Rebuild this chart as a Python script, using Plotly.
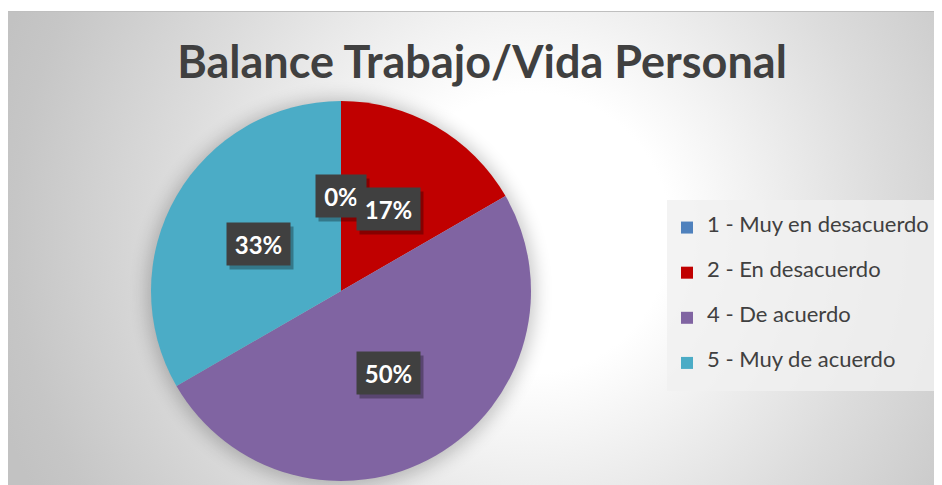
import math
import base64
import plotly.graph_objects as go

# ---------------- data ----------------
categories = ["1 - Muy en desacuerdo", "2 - En desacuerdo", "4 - De acuerdo", "5 - Muy de acuerdo"]
values = [0, 1, 3, 2]
colors = ["#4F81BD", "#C00000", "#8064A2", "#4BACC6"]
title_text = "Balance Trabajo/Vida Personal"

# ---------------- layout constants (px in the 942x485 view, from top-left) ----------------
W, H = 942, 485
OFF = 8                      # page body margin that shifts the figure
PIE_CX, PIE_CY, PIE_R = 341, 291, 190
BOX_X0, BOX_Y0 = 6, 11
FONT = "Lato"


def fx(px):
    return (px - OFF) / W


def fy(py):
    return 1 - (py - OFF) / H


total = sum(values)

# background: radial gradient + soft pie shadow, as an inline SVG image
bw, bh = W + OFF - BOX_X0, H + OFF - BOX_Y0
gcx, gcy = 524, 222
scx, scy = PIE_CX - BOX_X0, PIE_CY - BOX_Y0 + 2
svg = f'''<svg xmlns="http://www.w3.org/2000/svg" width="{bw}" height="{bh}" viewBox="0 0 {bw} {bh}">
<defs>
<radialGradient id="g" gradientUnits="userSpaceOnUse" cx="{gcx}" cy="{gcy}" r="560">
<stop offset="0" stop-color="#ffffff"/>
<stop offset="0.25" stop-color="#ffffff"/>
<stop offset="0.64" stop-color="#dcdcdc"/>
<stop offset="0.92" stop-color="#c6c6c6"/>
<stop offset="1" stop-color="#c2c2c2"/>
</radialGradient>
<filter id="b" x="-50%" y="-50%" width="200%" height="200%"><feGaussianBlur stdDeviation="9"/></filter>
</defs>
<rect x="0" y="0" width="{bw}" height="{bh}" fill="url(#g)"/>
<circle cx="{scx}" cy="{scy}" r="{PIE_R + 4}" fill="#000000" opacity="0.22" filter="url(#b)"/>
<line x1="0" y1="0.5" x2="{bw}" y2="0.5" stroke="#bfbfbf" stroke-width="1"/>
<line x1="0.5" y1="0" x2="0.5" y2="{bh}" stroke="#c4c4c4" stroke-width="1"/>
</svg>'''
svg_uri = "data:image/svg+xml;base64," + base64.b64encode(svg.encode()).decode()

# pie domain (paper coords)
dom_x = [fx(PIE_CX - PIE_R), fx(PIE_CX + PIE_R)]
dom_y = [fy(PIE_CY + PIE_R), fy(PIE_CY - PIE_R)]

# legend labels: 3 lines so each entry is ~45px tall, label in middle line
legend_labels = ["<br><span style='font-size:22px'>" + c + "</span><br> " for c in categories]

fig = go.Figure()
fig.add_trace(go.Pie(
    labels=legend_labels,
    values=values,
    marker=dict(colors=colors, line=dict(width=0)),
    sort=False,
    direction="clockwise",
    rotation=0,
    textinfo="none",
    hoverinfo="percent",
    domain=dict(x=dom_x, y=dom_y),
))

# data labels: placed at half radius on each slice's mid-angle
annotations = []
cum = 0
for v in values:
    mid = (cum + v / 2) / total * 2 * math.pi
    cum += v
    px = PIE_CX + 0.5 * PIE_R * math.sin(mid)
    py = PIE_CY - 0.5 * PIE_R * math.cos(mid)
    txt = f"{round(100 * v / total)}%"
    box_w = 13 * (len(txt) - 1) + 23
    common = dict(x=fx(px), y=fy(py), xref="paper", yref="paper",
                  showarrow=False, height=28, width=box_w, borderpad=7,
                  xanchor="center", yanchor="middle")
    # drop shadow (blank box)
    annotations.append(dict(text=" ", bgcolor="rgba(0,0,0,0.30)",
                            font=dict(family=FONT, size=24, color="rgba(0,0,0,0)"),
                            xshift=3, yshift=-4, **common))
    annotations.append(dict(text=txt, bgcolor="#404040",
                            font=dict(family=FONT, size=24, color="#ffffff", weight="bold"),
                            **common))

fig.update_layout(
    width=W, height=H, autosize=False,
    margin=dict(l=0, r=0, t=0, b=0),
    paper_bgcolor="#ffffff",
    plot_bgcolor="rgba(0,0,0,0)",
    title=dict(text=title_text, x=fx(482), xanchor="center",
               y=fy(62), yanchor="middle", yref="container",
               font=dict(family=FONT, size=45, color="#404040", weight="bold")),
    images=[dict(source=svg_uri, xref="paper", yref="paper",
                 x=fx(BOX_X0), y=fy(BOX_Y0), sizex=bw / W, sizey=bh / H,
                 xanchor="left", yanchor="top", sizing="stretch", layer="below")],
    legend=dict(x=fx(667), y=fy(200), xanchor="left", yanchor="top",
                bgcolor="rgba(240,240,240,0.82)", borderwidth=0,
                font=dict(family=FONT, size=10.8, color="#404040"),
                traceorder="normal"),
    annotations=annotations,
)

fig.write_html("out.html")
